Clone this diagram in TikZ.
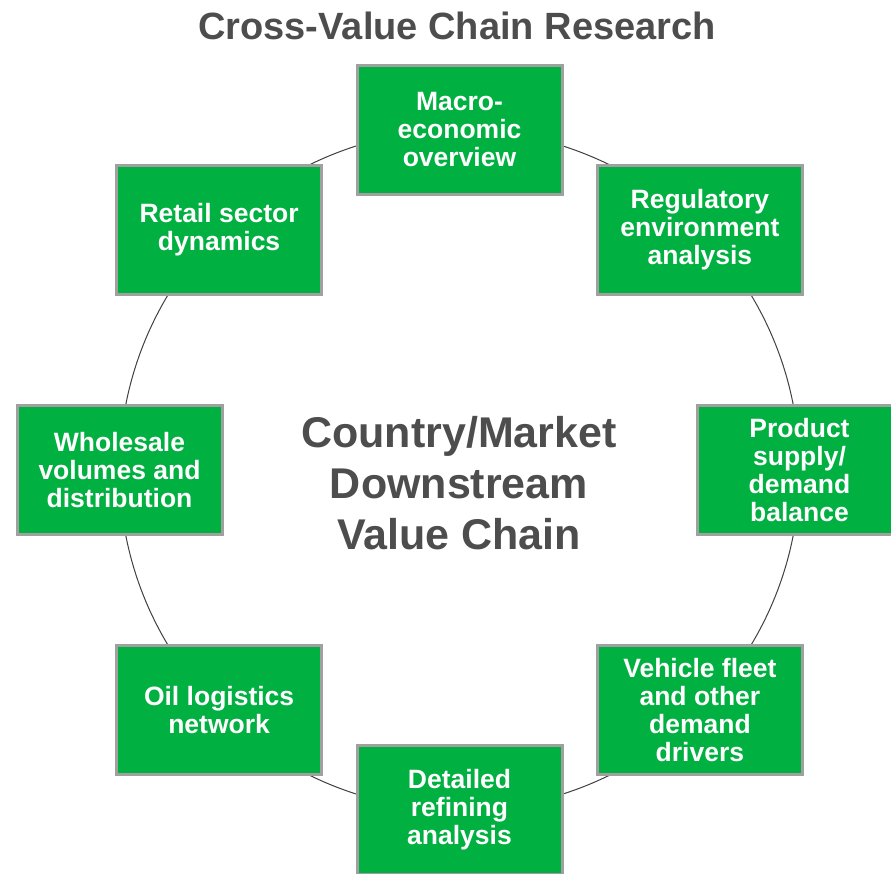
\documentclass[tikz,border=0pt]{standalone}
\usepackage{fontspec}
\setmainfont{Liberation Sans}
\usepackage{tikz}

\definecolor{boxgreen}{RGB}{0,176,64}
\definecolor{boxedge}{RGB}{160,160,160}
\definecolor{ringgray}{RGB}{64,64,64}
\definecolor{textgray}{RGB}{77,77,77}

\tikzset{
  stage/.style={draw=boxedge, line width=3pt, fill=boxgreen, text=white,
    minimum width=205pt, minimum height=129pt, inner sep=0pt, align=center,
    font=\fontsize{26.5}{28}\selectfont\bfseries},
  heading/.style={text=textgray, font=\fontsize{38}{40}\selectfont\bfseries},
  hublabel/.style={text=textgray, align=center, font=\fontsize{43}{51}\selectfont\bfseries}
}

\begin{document}
\begin{tikzpicture}[x=1pt,y=1pt]
\useasboundingbox (0,0) rectangle (891,-874);
\clip (0,0) rectangle (891,-874);
% ring behind the boxes
\coordinate (hub) at (459.5,-470);
\draw [ringgray, line width=1pt] (hub) circle (340);
\node (title) [heading, anchor=base] at (457,-40) {Cross-Value Chain Research};
\node (hubtext) [hublabel] at (459,-483) {Country/Market\\Downstream\\Value Chain};
% the eight stages
\node (macro) [stage] at (459.5,-130) {Macro-\\economic\\overview};
\node (regulatory) [stage] at (699.9,-229.6) {Regulatory\\environment\\analysis};
\node (product) [stage] at (799.5,-470) {Product\\supply/\\demand\\balance};
\node (vehicle) [stage] at (699.9,-710.4) {Vehicle fleet\\and other\\demand\\drivers};
\node (refining) [stage] at (459.5,-810) {Detailed\\refining\\analysis};
\node (logistics) [stage] at (219.1,-710.4) {Oil logistics\\network};
\node (wholesale) [stage] at (119.5,-470) {Wholesale\\volumes and\\distribution};
\node (retail) [stage] at (219.1,-229.6) {Retail sector\\dynamics};
\end{tikzpicture}
\end{document}
